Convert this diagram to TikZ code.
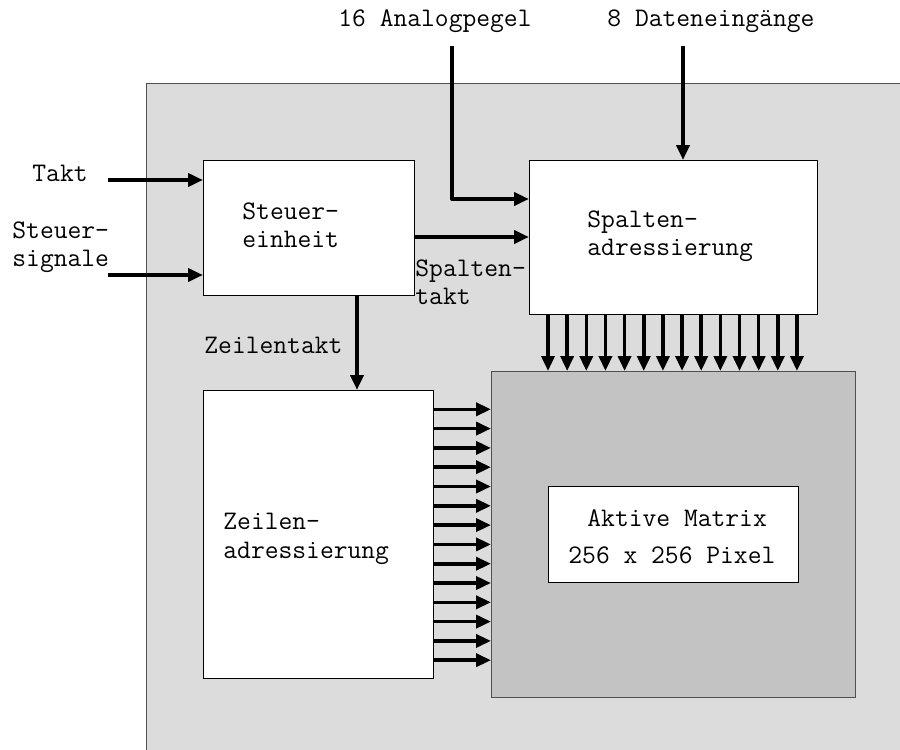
\documentclass[tikz,border=0pt]{standalone}
\usepackage{fontspec}
\usetikzlibrary{arrows.meta}
\definecolor{chipgray}{RGB}{220,220,220}
\definecolor{matgray}{RGB}{195,195,195}
\definecolor{edgegray}{RGB}{80,80,80}
\begin{document}
\begin{tikzpicture}[x=0.5pt,y=-0.5pt,
  box/.style={draw=black, line width=0.6pt, fill=white, inner sep=0, anchor=north west},
  arr/.style={line width=2pt, -{Triangle[length=7.5pt,width=6.5pt]}, line join=round},
  carr/.style={line width=1.8pt, -{Triangle[length=7.5pt,width=6.5pt]}},
  lbl/.style={inner sep=0, anchor=base west, font=\ttfamily\fontsize{13.4}{16}\selectfont}]
\useasboundingbox (0,0) rectangle (900,750);
\clip (0,0) rectangle (900,750);
% chip background
\node[draw=edgegray, line width=0.6pt, fill=chipgray, inner sep=0, anchor=north west,
      minimum width=385pt, minimum height=340pt] (chip) at (146,83) {};
% boxes
\node[box, minimum width=105.5pt, minimum height=67.5pt] (steuer) at (203,160) {};
\node[box, minimum width=144pt, minimum height=77pt] (spalten) at (529,160) {};
\node[box, minimum width=115pt, minimum height=144pt] (zeilen) at (203,390) {};
\node[box, draw=edgegray, fill=matgray, minimum width=182pt, minimum height=163pt] (mat) at (491,371) {};
\node[box, minimum width=125pt, minimum height=48pt] (inner) at (548,486) {};
% texts
\node[lbl] (t1) at (338,26) {16 Analogpegel};
\node[lbl] (t2) at (607,26) {8 Dateneingänge};
\node[lbl] (t3) at (32,181) {Takt};
\node[lbl] (t4a) at (12,238) {Steuer-};
\node[lbl] (t4b) at (12,266) {signale};
\node[lbl] (t5a) at (242,219) {Steuer-};
\node[lbl] (t5b) at (242,247) {einheit};
\node[lbl] (t6a) at (587,227) {Spalten-};
\node[lbl] (t6b) at (587,255) {adressierung};
\node[lbl] (t7a) at (415,276) {Spalten-};
\node[lbl] (t7b) at (415,304) {takt};
\node[lbl] (t8) at (204,353) {Zeilentakt};
\node[lbl] (t9a) at (223,529) {Zeilen-};
\node[lbl] (t9b) at (223,558) {adressierung};
\node[lbl] (t10a) at (587,526) {Aktive Matrix};
\node[lbl] (t10b) at (568,563) {256 x 256 Pixel};
% inputs
\coordinate (taktin) at (108,180);
\coordinate (sigin) at (108,275);
\coordinate (anain) at (452,46);
\coordinate (datin) at (683,46);
\draw[arr] (taktin) -- (taktin -| steuer.west);
\draw[arr] (sigin) -- (sigin -| steuer.west);
\draw[arr] (anain) |- (spalten.west |- 0,199);
\draw[arr] (datin) -- (datin |- spalten.north);
\draw[arr] (steuer.east |- 0,237) -- (spalten.west |- 0,237);
\draw[arr] (steuer.south -| 357,0) -- (zeilen.north -| 357,0);
% column lines
\foreach \i in {0,...,13} {
  \pgfmathsetmacro\xx{548+\i*19.15}
  \draw[carr] (spalten.south -| \xx,0) -- (mat.north -| \xx,0);
}
% row lines
\foreach \i in {0,...,13} {
  \pgfmathsetmacro\yy{409.3+\i*19.3}
  \draw[carr] (zeilen.east |- 0,\yy) -- (mat.west |- 0,\yy);
}
\end{tikzpicture}
\end{document}
